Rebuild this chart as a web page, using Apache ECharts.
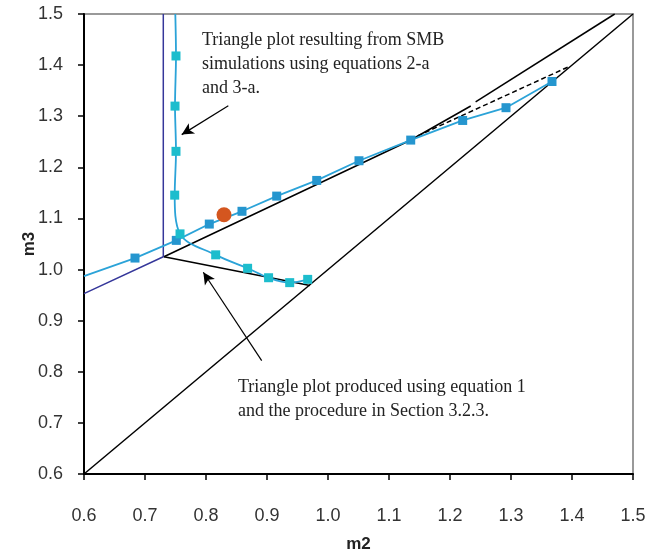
<!DOCTYPE html>
<html>
<head>
<meta charset="utf-8">
<style>
  html, body { margin: 0; padding: 0; background: #fff; }
  #main { width: 649px; height: 558px; }
</style>
</head>
<body>
<div id="main"></div>
<script src="https://cdn.jsdelivr.net/npm/echarts@6/dist/echarts.min.js"></script>
<script>
// axis ticks
var ticks = [0.6, 0.7, 0.8, 0.9, 1.0, 1.1, 1.2, 1.3, 1.4, 1.5];

// SMB simulation points (m2, m3)
var smbUpper = [[0.6, 0.987], [0.6836, 1.0225], [0.7513, 1.0571], [0.8054, 1.089], [0.859, 1.114],
    [0.9159, 1.1437], [0.9815, 1.1744], [1.0508, 1.2129], [1.1356, 1.2533], [1.2208, 1.2917],
    [1.2918, 1.3167], [1.3672, 1.3679]];
var smbLower = [[0.7497, 1.5], [0.7508, 1.4179], [0.7492, 1.3198], [0.7508, 1.2313], [0.7487, 1.1456],
    [0.7574, 1.0698], [0.8159, 1.0288], [0.8682, 1.0025], [0.9026, 0.984], [0.9372, 0.9744],
    [0.9667, 0.9808]];

// triangle from equation 1
var diagonal = [[0.6, 0.6], [1.5, 1.5]];
var triLower = [[0.731, 1.025], [0.9705, 0.969]];
var triUpperA = [[0.731, 1.025], [1.135, 1.253], [1.234, 1.320]];
var triUpperB = [[1.242, 1.328], [1.470, 1.5]];
var triDashed = [[1.135, 1.255], [1.393, 1.396]];
var navyLine = [[0.730, 1.5], [0.730, 1.025], [0.6, 0.953]];
var operatingPoint = [[0.8295, 1.1071]];

// annotation arrows [tail, head]
var arrowSmb = [[0.8366, 1.3206], [0.7602, 1.264]];
var arrowEq1 = [[0.8913, 0.8217], [0.7956, 0.9948]];

var textSmb = ['Triangle plot resulting from SMB', 'simulations using equations 2-a', 'and 3-a.'];
var textEq1 = ['Triangle plot produced using equation 1', 'and the procedure in Section 3.2.3.'];

var myChart = echarts.init(document.getElementById('main'));

function blackLine(data, extra) {
    var s = {
        type: 'line', data: data, symbol: 'none', silent: true,
        lineStyle: { color: '#000', width: 1.5 }
    };
    for (var k in extra) s[k] = extra[k];
    return s;
}

var option = {
    animation: false,
    grid: { left: 84, right: 16, top: 14, bottom: 76, show: true, borderColor: '#999', borderWidth: 2 },
    xAxis: {
        type: 'value', min: 0.6, max: 1.5, interval: 0.1,
        name: 'm2', nameLocation: 'middle', nameGap: 62, nameMoveOverlap: false,
        nameTextStyle: { fontFamily: 'Liberation Sans', fontWeight: 'bold', fontSize: 17, color: '#222' },
        axisLine: { show: true, lineStyle: { color: '#000', width: 2 } },
        axisTick: { show: true, length: 6, lineStyle: { color: '#000', width: 1.5 } },
        axisLabel: {
            margin: 33, fontFamily: 'Liberation Sans', fontSize: 18, color: '#333',
            formatter: function (v) { return v.toFixed(1); }
        },
        splitLine: { show: false }
    },
    yAxis: {
        type: 'value', min: 0.6, max: 1.5, interval: 0.1,
        name: 'm3', nameLocation: 'middle', nameGap: 46, nameMoveOverlap: false,
        nameTextStyle: { fontFamily: 'Liberation Sans', fontWeight: 'bold', fontSize: 17, color: '#222' },
        axisLine: { show: true, lineStyle: { color: '#000', width: 2 } },
        axisTick: { show: true, length: 6, lineStyle: { color: '#000', width: 1.5 } },
        axisLabel: {
            margin: 21, fontFamily: 'Liberation Sans', fontSize: 18, color: '#333',
            formatter: function (v) { return v.toFixed(1); }
        },
        splitLine: { show: false }
    },
    series: [
        blackLine(diagonal, {
            markLine: {
                silent: true, symbol: ['none', 'arrow'], symbolSize: [9, 12],
                label: { show: false },
                lineStyle: { color: '#000', width: 1.2, type: 'solid' },
                data: [
                    [{ coord: arrowSmb[0] }, { coord: arrowSmb[1] }],
                    [{ coord: arrowEq1[0] }, { coord: arrowEq1[1] }]
                ]
            }
        }),
        blackLine(triLower),
        blackLine(triUpperA),
        blackLine(triUpperB),
        blackLine(triDashed, { lineStyle: { color: '#000', width: 1.5, type: [5, 3] } }),
        {
            type: 'line', data: navyLine, symbol: 'none', silent: true,
            lineStyle: { color: '#35379a', width: 1.5 }
        },
        {
            type: 'line', data: smbUpper, symbol: 'rect', symbolSize: 9,
            showSymbol: true,
            itemStyle: { color: '#2596cf' },
            lineStyle: { color: '#2ba3d8', width: 1.8 },
            z: 4
        },
        {
            type: 'line', data: smbLower, symbol: 'rect', symbolSize: 9, smooth: 0.35,
            itemStyle: { color: '#1cbdcd' },
            lineStyle: { color: '#2ba3d8', width: 1.8 },
            z: 4
        },
        {
            type: 'scatter', data: operatingPoint, symbol: 'circle', symbolSize: 15,
            itemStyle: { color: '#d4561f', opacity: 1 }, z: 5
        }
    ],
    graphic: [
        {
            type: 'text', left: 202, top: 28,
            style: { text: textSmb.join('\n'), font: '18px "Liberation Serif"', lineHeight: 24, fill: '#222' }
        },
        {
            type: 'text', left: 238, top: 375,
            style: { text: textEq1.join('\n'), font: '18px "Liberation Serif"', lineHeight: 24, fill: '#222' }
        }
    ]
};

// hide the symbol on the first (edge) point of each SMB line
option.series[6].data = smbUpper.map(function (p, i) {
    return i === 0 ? { value: p, symbol: 'none' } : p;
});
option.series[7].data = smbLower.map(function (p, i) {
    return i === 0 ? { value: p, symbol: 'none' } : p;
});

myChart.setOption(option);
</script>
</body>
</html>
